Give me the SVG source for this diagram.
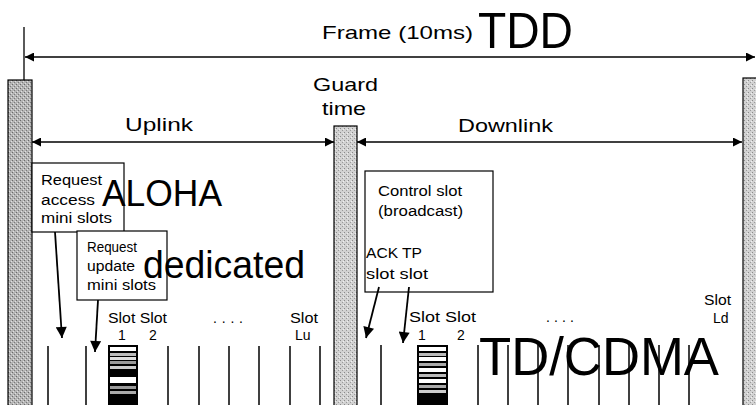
<svg xmlns="http://www.w3.org/2000/svg" width="756" height="405" viewBox="0 0 756 405">
<defs>
<style>
text{font-family:"Liberation Sans",Arial,sans-serif;fill:#000}
.lbl{font-size:19px}
.sm{font-size:14px}
.bx{fill:#fff;stroke:#000;stroke-width:1.2}
.ln{stroke:#000;stroke-width:1.3;fill:none}
.dn{stroke:#000;stroke-width:1.8;fill:none}
.sl{stroke:#000;stroke-width:1.5}
.bar{stroke:#000;stroke-width:1.2}
</style>
<pattern id="stipD" width="4" height="4" patternUnits="userSpaceOnUse">
<rect width="4" height="4" fill="#b4b4b4"/>
<rect x="0" y="0" width="1" height="1" fill="#6a6a6a"/>
<rect x="2" y="2" width="1" height="1" fill="#7a7a7a"/>
<rect x="3" y="1" width="1" height="1" fill="#e0e0e0"/>
<rect x="1" y="3" width="1" height="1" fill="#e0e0e0"/>
</pattern>
<pattern id="stipL" width="4" height="4" patternUnits="userSpaceOnUse">
<rect width="4" height="4" fill="#d2d2d2"/>
<rect x="0" y="0" width="1" height="1" fill="#8a8a8a"/>
<rect x="2" y="2" width="1" height="1" fill="#9a9a9a"/>
<rect x="3" y="1" width="1" height="1" fill="#f0f0f0"/>
</pattern>
<marker id="ah" viewBox="0 0 10 10" refX="10" refY="5" markerWidth="10" markerHeight="9" markerUnits="userSpaceOnUse" orient="auto-start-reverse">
<path d="M0,0 L10,5 L0,10 z" fill="#000"/>
</marker>
<marker id="ah2" viewBox="0 0 10 10" refX="10" refY="5" markerWidth="13" markerHeight="11" markerUnits="userSpaceOnUse" orient="auto">
<path d="M0,0 L10,5 L0,10 z" fill="#000"/>
</marker>
</defs>

<g id="left-bar"><rect class="bar" x="8" y="80" width="24" height="330" fill="url(#stipD)"/></g>
<g id="guard-bar"><rect class="bar" x="334" y="126" width="23" height="284" fill="url(#stipL)"/></g>
<g id="right-bar"><rect class="bar" x="743" y="78" width="20" height="330" fill="url(#stipL)"/></g>

<g id="frame-label">
<text class="lbl" x="322" y="39" textLength="151" lengthAdjust="spacingAndGlyphs">Frame (10ms)</text>
<text x="478" y="48" style="font-size:50px" textLength="95" lengthAdjust="spacingAndGlyphs">TDD</text>
</g>
<g id="guard-label">
<text class="lbl" x="313" y="91" textLength="65" lengthAdjust="spacingAndGlyphs">Guard</text>
<text class="lbl" x="322" y="115" textLength="44" lengthAdjust="spacingAndGlyphs">time</text>
</g>
<g id="uplink-label"><text class="lbl" x="125" y="131" textLength="68" lengthAdjust="spacingAndGlyphs">Uplink</text></g>
<g id="downlink-label"><text class="lbl" x="458" y="132" textLength="95" lengthAdjust="spacingAndGlyphs">Downlink</text></g>

<g id="aloha-box">
<rect class="bx" x="32" y="163" width="92" height="69"/>
<text class="sm" x="41" y="185" textLength="61" lengthAdjust="spacingAndGlyphs">Request</text>
<text class="sm" x="41" y="205" textLength="54" lengthAdjust="spacingAndGlyphs">access</text>
<text class="sm" x="41" y="223" textLength="71" lengthAdjust="spacingAndGlyphs">mini slots</text>
</g>
<g id="aloha-label"><text x="102" y="206" style="font-size:36px" textLength="120" lengthAdjust="spacingAndGlyphs">ALOHA</text></g>

<g id="update-box">
<rect class="bx" x="77" y="231" width="90" height="69"/>
<text class="sm" x="87" y="252" textLength="50" lengthAdjust="spacingAndGlyphs">Request</text>
<text class="sm" x="87" y="271" textLength="48" lengthAdjust="spacingAndGlyphs">update</text>
<text class="sm" x="87" y="290" textLength="69" lengthAdjust="spacingAndGlyphs">mini slots</text>
</g>
<g id="dedicated-label"><text x="143" y="278" style="font-size:38px" textLength="162" lengthAdjust="spacingAndGlyphs">dedicated</text></g>

<g id="control-box">
<rect class="bx" x="365" y="171" width="128" height="121"/>
<text class="sm" x="378" y="196" textLength="84" lengthAdjust="spacingAndGlyphs">Control slot</text>
<text class="sm" x="378" y="216" textLength="85" lengthAdjust="spacingAndGlyphs">(broadcast)</text>
<text class="sm" x="366" y="258" textLength="56" lengthAdjust="spacingAndGlyphs">ACK TP</text>
<text class="sm" x="366" y="279" textLength="62" lengthAdjust="spacingAndGlyphs">slot  slot</text>
</g>

<g id="uplink-slots">
<line class="sl" x1="48" y1="346" x2="48" y2="405"/>
<line class="sl" x1="86" y1="346" x2="86" y2="405"/>
<line class="sl" x1="168" y1="346" x2="168" y2="405"/>
<line class="sl" x1="199" y1="346" x2="199" y2="405"/>
<line class="sl" x1="229" y1="346" x2="229" y2="405"/>
<line class="sl" x1="259" y1="346" x2="259" y2="405"/>
<line class="sl" x1="290" y1="346" x2="290" y2="405"/>
<line class="sl" x1="320" y1="346" x2="320" y2="405"/>
<g id="uplink-slot1">
<rect x="108" y="345" width="30" height="60" fill="#000"/>
<rect x="110" y="347" width="26" height="4" fill="#fff"/>
<rect x="110" y="353" width="26" height="3" fill="#bbb"/>
<rect x="110" y="357" width="26" height="3" fill="#ddd"/>
<rect x="110" y="361" width="26" height="3" fill="#999"/>
<rect x="110" y="366" width="26" height="3" fill="#ccc"/>
<rect x="110" y="377" width="26" height="6" fill="#fff"/>
<rect x="110" y="386" width="26" height="3" fill="#999"/>
<rect x="110" y="391" width="26" height="3" fill="#aaa"/>
</g>
<text class="sm" x="108" y="323" textLength="59" lengthAdjust="spacingAndGlyphs">Slot Slot</text>
<text class="sm" x="118" y="340">1</text>
<text class="sm" x="149" y="340">2</text>
<text class="sm" x="213" y="323" textLength="30" lengthAdjust="spacing">....</text>
<text class="sm" x="290" y="323" textLength="28" lengthAdjust="spacingAndGlyphs">Slot</text>
<text class="sm" x="295" y="340">Lu</text>
</g>

<g id="downlink-slots">
<line class="sl" x1="381" y1="345" x2="381" y2="405"/>
<line class="sl" x1="478" y1="345" x2="478" y2="405"/>
<line class="sl" x1="508" y1="345" x2="508" y2="405"/>
<line class="sl" x1="538" y1="345" x2="538" y2="405"/>
<line class="sl" x1="568" y1="345" x2="568" y2="405"/>
<line class="sl" x1="599" y1="345" x2="599" y2="405"/>
<line class="sl" x1="629" y1="345" x2="629" y2="405"/>
<line class="sl" x1="659" y1="345" x2="659" y2="405"/>
<line class="sl" x1="689" y1="345" x2="689" y2="405"/>
<g id="downlink-slot1">
<rect x="417" y="345" width="31" height="60" fill="#000"/>
<rect x="419" y="347" width="27" height="4" fill="#fff"/>
<rect x="419" y="353" width="27" height="3" fill="#bbb"/>
<rect x="419" y="357" width="27" height="4" fill="#fff"/>
<rect x="419" y="363" width="27" height="3" fill="#aaa"/>
<rect x="419" y="368" width="27" height="4" fill="#fff"/>
<rect x="419" y="374" width="27" height="3" fill="#bbb"/>
<rect x="419" y="379" width="27" height="4" fill="#fff"/>
<rect x="419" y="385" width="27" height="3" fill="#aaa"/>
<rect x="419" y="390" width="27" height="3" fill="#ccc"/>
</g>
<text class="sm" x="409" y="322" textLength="67" lengthAdjust="spacingAndGlyphs">Slot  Slot</text>
<text class="sm" x="418" y="340">1</text>
<text class="sm" x="457" y="340">2</text>
<text class="sm" x="546" y="322" textLength="28" lengthAdjust="spacing">....</text>
<text class="sm" x="704" y="305" textLength="27" lengthAdjust="spacingAndGlyphs">Slot</text>
<text class="sm" x="713" y="323">Ld</text>
</g>
<g id="tdcdma-label"><text x="479" y="375" style="font-size:53px" textLength="240" lengthAdjust="spacingAndGlyphs">TD/CDMA</text></g>

<g id="connectors">
<line class="ln" x1="24" y1="27" x2="24" y2="80"/>
<line class="ln" x1="25" y1="57" x2="755" y2="57" marker-start="url(#ah)" marker-end="url(#ah)"/>
<line class="ln" x1="32" y1="142" x2="334" y2="142" marker-start="url(#ah)" marker-end="url(#ah)"/>
<line class="ln" x1="357" y1="142" x2="742" y2="142" marker-start="url(#ah)" marker-end="url(#ah)"/>
<line class="dn" x1="55" y1="232" x2="62" y2="338" marker-end="url(#ah2)"/>
<line class="dn" x1="98" y1="300" x2="95" y2="352" marker-end="url(#ah2)"/>
<line class="dn" x1="379" y1="287" x2="366" y2="338" marker-end="url(#ah2)"/>
<line class="dn" x1="409" y1="287" x2="403" y2="343" marker-end="url(#ah2)"/>
</g>
</svg>
